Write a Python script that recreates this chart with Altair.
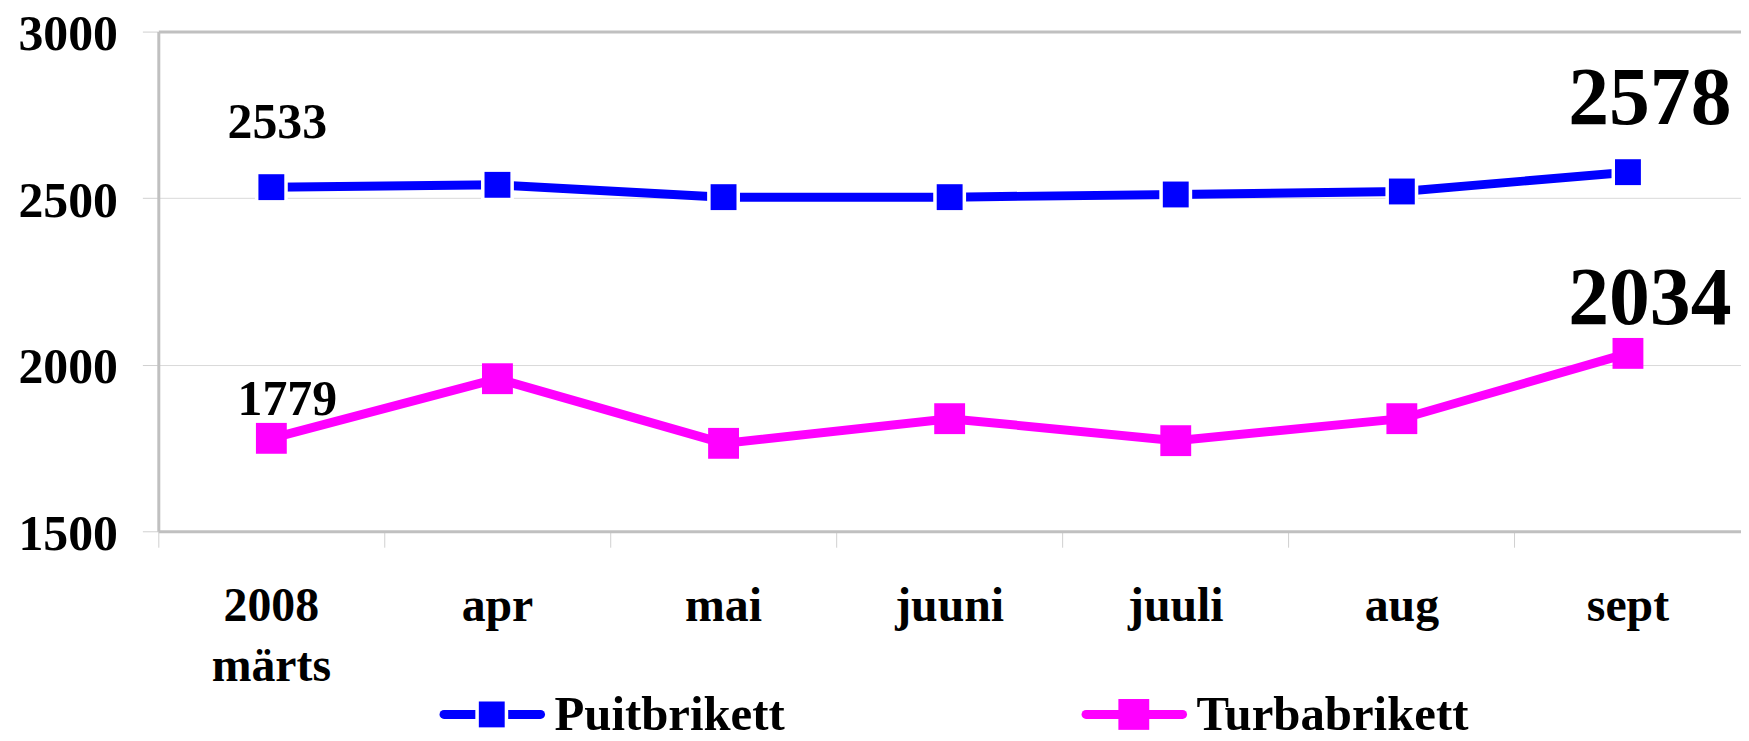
import altair as alt
import pandas as pd

# ---- data ----
months = ["2008\nmärts", "apr", "mai", "juuni", "juuli", "aug", "sept"]
puitbrikett = [2533, 2540, 2503, 2503, 2511, 2520, 2578]
turbabrikett = [1779, 1958, 1764, 1838, 1772, 1838, 2034]
series = ["Puitbrikett", "Turbabrikett"]
colors = ["#0000ff", "#ff00ff"]
y_ticks = [1500, 2000, 2500, 3000]

rows = []
for s, vals in zip(series, [puitbrikett, turbabrikett]):
    for i, (m, v) in enumerate(zip(months, vals)):
        rows.append({"month": m, "value": v, "series": s, "idx": i})
df = pd.DataFrame(rows)
legend_df = pd.DataFrame({"series": series})

FONT = "Liberation Serif"
W, H = 1590, 502

x = alt.X(
    "month:N",
    sort=months,
    scale=alt.Scale(type="band", paddingInner=0, paddingOuter=0),
    axis=alt.Axis(
        title=None, bandPosition=0, labelAngle=0,
        labelExpr="split(datum.label, '\\n')",
        labelFont=FONT, labelFontSize=48, labelFontWeight="bold", labelColor="black",
        labelPadding=36, labelLineHeight=60, labelBaseline="top",
        tickSize=16, tickColor="#d0d0d0", tickWidth=1,
        domainColor="#c0c0c0", domainWidth=3, grid=False,
    ),
)
y = alt.Y(
    "value:Q",
    scale=alt.Scale(domain=[1500, 3000], nice=False, zero=False),
    axis=alt.Axis(
        title=None, values=y_ticks, format="d",
        labelFont=FONT, labelFontSize=50, labelFontWeight="bold", labelColor="black",
        labelPadding=25, labelBaseline="alphabetic", labelOffset=18,
        tickSize=16, tickColor="#d0d0d0", tickWidth=1,
        domainColor="#c0c0c0", domainWidth=3,
        grid=True,
        gridColor={"condition": {"test": "datum.value == 3000", "value": "#c0c0c0"}, "value": "#d9d9d9"},
        gridWidth={"condition": {"test": "datum.value == 3000", "value": 3}, "value": 1},
    ),
)

color_scale = alt.Scale(domain=series, range=colors)

lines = alt.Chart(df).mark_line(strokeWidth=9).encode(
    x=x, y=y, stroke=alt.Stroke("series:N", scale=color_scale, legend=None)
)

# white ring around the blue markers (gap between marker and line)
rings = alt.Chart(df).transform_filter(
    f"datum.series == '{series[0]}'"
).mark_point(shape="square", filled=True, opacity=1, color="white").encode(
    x=x, y=y, size=alt.value(33 * 33)
)

points = alt.Chart(df).mark_point(shape="square", filled=True, opacity=1).encode(
    x=x,
    y=y,
    color=alt.Color("series:N", scale=color_scale, legend=None),
    size=alt.Size("series:N", scale=alt.Scale(domain=series, range=[26 * 26, 31 * 31]), legend=None),
)


def label_layer(name, idx, size, dx, dy):
    return alt.Chart(df).transform_filter(
        f"datum.series == '{name}' && datum.idx == {idx}"
    ).mark_text(
        font=FONT, fontSize=size, fontWeight="bold", color="black",
        align="center", baseline="alphabetic", dx=dx, dy=dy,
    ).encode(x=x, y=y, text=alt.Text("value:Q", format="d"))


labels = [
    label_layer("Puitbrikett", 0, 50, 6, -49),
    label_layer("Turbabrikett", 0, 50, 16, -23),
    label_layer("Puitbrikett", 6, 82, 22, -48),
    label_layer("Turbabrikett", 6, 82, 22, -30),
]

# ---- legend below the chart (line + square marker + name) ----
LEG_Y = 686          # symbol centre, px below plot top
legend_layers = []
for name, col, left, sq, ring in [
    (series[0], colors[0], 283, 26, 33),
    (series[1], colors[1], 928, 31, 0),
]:
    base = alt.Chart(legend_df).transform_filter(f"datum.series == '{name}'")
    legend_layers.append(
        base.mark_rule(strokeWidth=9, strokeCap="round", color=col).encode(
            x=alt.value(left + 4), x2=alt.value(left + 101), y=alt.value(LEG_Y)
        )
    )
    if ring:
        legend_layers.append(
            base.mark_point(shape="square", filled=True, opacity=1, color="white").encode(
                x=alt.value(left + 52), y=alt.value(LEG_Y), size=alt.value(ring * ring)
            )
        )
    legend_layers.append(
        base.mark_point(shape="square", filled=True, opacity=1, color=col).encode(
            x=alt.value(left + 52), y=alt.value(LEG_Y), size=alt.value(sq * sq)
        )
    )
    legend_layers.append(
        base.mark_text(font=FONT, fontSize=49, fontWeight="bold", color="black",
                       align="left", baseline="alphabetic").encode(
            x=alt.value(left + 115), y=alt.value(LEG_Y + 16), text="series:N"
        )
    )

chart = alt.layer(lines, rings, points, *labels, *legend_layers).properties(
    width=W, height=H,
    autosize=alt.AutoSizeParams(type="none"),
    padding={"left": 151, "top": 22, "right": 0, "bottom": 209},
    background="white",
).configure_view(stroke=None)

chart.save("out.html", embed_options={"renderer": "svg", "actions": False})
